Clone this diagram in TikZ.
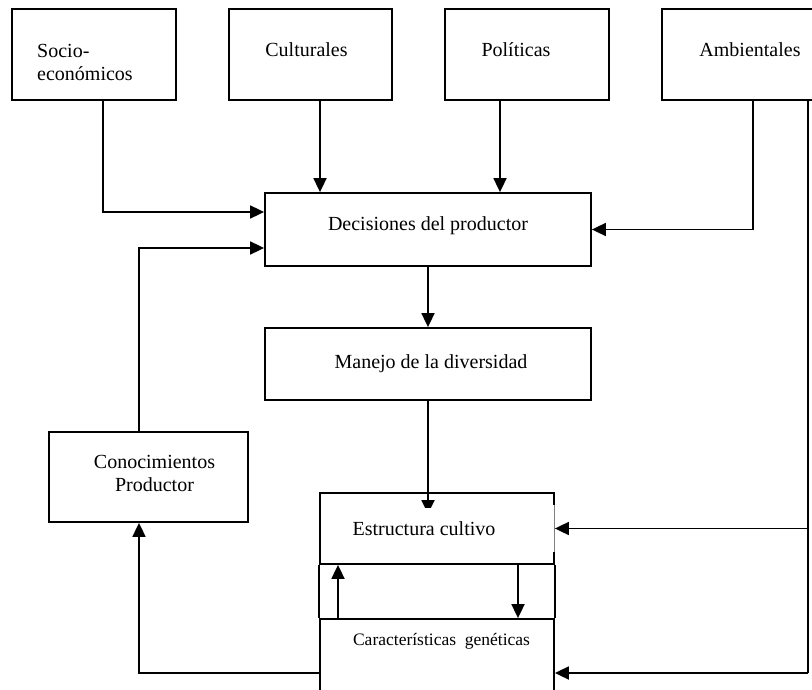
\documentclass[tikz,border=0pt]{standalone}
\usepackage{fontspec}
\setmainfont{Liberation Serif}
\usetikzlibrary{arrows.meta}
\begin{document}
\begin{tikzpicture}[x=1pt,y=-1pt,
  box/.style={draw, line width=1.8pt, rectangle, inner sep=0pt},
  lbl/.style={font=\fontsize{20}{23}\selectfont, inner sep=0pt},
  small/.style={font=\fontsize{17.5}{20}\selectfont, inner sep=0pt},
  arr/.style={line width=1.8pt, -{Triangle[length=14pt,width=13pt]}},
  ln/.style={line width=1.8pt}]
\useasboundingbox (0,0) rectangle (812,690);
\clip (0,0) rectangle (812,690);
\fill[white] (0,0) rectangle (812,690);

% boxes
\node[box, minimum width=164, minimum height=91] (socio) at (94,54.5) {};
\node[box, minimum width=163, minimum height=91] (cult) at (310.5,54.5) {};
\node[box, minimum width=164, minimum height=91] (pol) at (527,54.5) {};
\node[box, minimum width=164, minimum height=91] (amb) at (744,54.5) {};
\node[box, minimum width=326, minimum height=73] (dec) at (428,229.5) {};
\node[box, minimum width=326, minimum height=72] (man) at (428,364) {};
\node[box, minimum width=199, minimum height=90] (con) at (148.5,477) {};
\node[box, minimum width=234, minimum height=71] (est) at (437,528.5) {};
\node[box, minimum width=234, minimum height=81] (car) at (437,659.5) {};
\draw[ln] (est.south west) -- (car.north west);
\draw[ln] (est.south east) -- (car.north east);

% helper coordinates
\coordinate (sx) at (103,212);
\coordinate (cx) at (320,0);
\coordinate (px) at (500,0);
\coordinate (a1) at (753,0);
\coordinate (a2) at (808,0);
\coordinate (kx) at (139,248);
\coordinate (bot) at (0,673);
\coordinate (ux) at (338,0);
\coordinate (dx) at (518,0);
\coordinate (esttip) at (428,514);

% connectors
\draw[arr] (socio.south -| sx) |- (dec.west |- sx);
\draw[arr] (cult.south -| cx) -- (dec.north -| cx);
\draw[arr] (pol.south -| px) -- (dec.north -| px);
\draw[arr] (amb.south -| a1) |- (dec.east);
\draw[ln] (amb.south -| a2) -- (a2 |- bot);
\draw[arr] (con.north -| kx) |- (dec.west |- kx);
\draw[arr] (dec.south) -- (man.north);
\draw[arr] (man.south) -- (esttip);

% white area of the text frame in Estructura cultivo
\fill[white] (330,508) rectangle (552,552);
\fill[white] (551,505) rectangle (557.5,552);
\draw[line width=0.6pt, gray] (554,505) -- (554,552);

\draw[arr] (a2 |- est.east) -- (est.east);
\draw[arr] (a2 |- bot) -- (car.east |- bot);
\draw[arr] (car.north -| ux) -- (est.south -| ux);
\draw[arr] (est.south -| dx) -- (car.north -| dx);
\draw[arr] (car.west |- bot) -| (con.south -| kx);

% texts
\node[lbl, anchor=north west, align=left] (tsocio) at (37,44) {Socio-\\económicos};
\node[lbl, anchor=base] (tcult) at (306.5,57) {Culturales};
\node[lbl, anchor=base] (tpol) at (516,57) {Políticas};
\node[lbl, anchor=base] (tamb) at (750,57) {Ambientales};
\node[lbl, anchor=base] (tdec) at (428,230) {Decisiones del productor};
\node[lbl, anchor=base] (tman) at (431,368) {Manejo de la diversidad};
\node[lbl, anchor=north, align=center] (tcon) at (154.5,455) {Conocimientos\\Productor};
\node[lbl, anchor=base] (test) at (424,535) {Estructura cultivo};
\node[small, anchor=base] (tcar) at (441.5,645) {Características\ \ genéticas};
\end{tikzpicture}
\end{document}
